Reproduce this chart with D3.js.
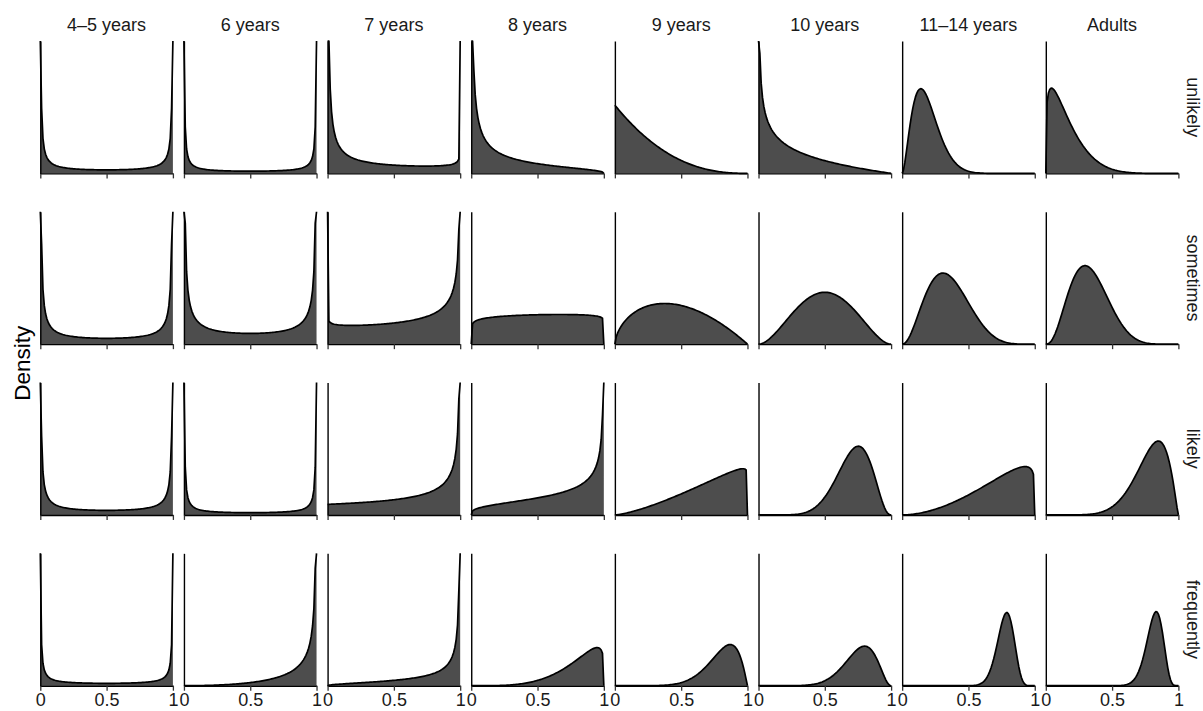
<!DOCTYPE html>
<html>
<head>
<meta charset="utf-8">
<script src="https://cdn.jsdelivr.net/npm/d3@7"></script>
<style>
  body { margin: 0; background: #ffffff; }
  text { font-family: "Liberation Sans", Arial, Helvetica, sans-serif; }
</style>
</head>
<body>
<svg id="chart" width="1203" height="711"></svg>
<script>
// Facet columns (age groups) and facet rows (response category)
const ageGroups = ["4–5 years", "6 years", "7 years", "8 years", "9 years", "10 years", "11–14 years", "Adults"];
const responses = ["unlikely", "sometimes", "likely", "frequently"];

// Beta shape parameters per age group, one pair of arrays per response row
const alphaUnlikely   = [0.10, 0.06, 0.22, 0.35, 1.00, 0.60, 2.80, 1.25];
const betaUnlikely    = [0.10, 0.06, 0.72, 1.40, 3.40, 2.00, 12.0, 6.60];
const alphaSometimes  = [0.12, 0.25, 0.90, 1.10, 1.60, 2.90, 3.20, 3.60];
const betaSometimes   = [0.12, 0.25, 0.55, 1.05, 2.00, 2.90, 5.95, 7.20];
const alphaLikely     = [0.12, 0.055, 1.00, 1.30, 2.40, 8.60, 2.90, 8.00];
const betaLikely      = [0.12, 0.055, 0.48, 0.60, 1.05, 3.50, 1.15, 2.25];
const alphaFrequently = [0.12, 3.00, 1.50, 4.80, 8.36, 9.64, 33.5, 30.4];
const betaFrequently  = [0.12, 0.42, 0.35, 1.20, 2.10, 3.16, 9.70, 6.90];

// Upper limit of the density axis in each row
const rowDensityMax = [6.6, 4.7, 6.0, 11.5];

const xTicks = [0, 0.5, 1];
const xTickLabels = ["0", "0.5", "1"];

const alphas = [alphaUnlikely, alphaSometimes, alphaLikely, alphaFrequently];
const betas  = [betaUnlikely, betaSometimes, betaLikely, betaFrequently];

// log-gamma (Lanczos approximation)
function lnGamma(z) {
  if (z < 0.5) return Math.log(Math.PI / Math.sin(Math.PI * z)) - lnGamma(1 - z);
  z -= 1;
  const c = [0.99999999999980993, 676.5203681218851, -1259.1392167224028,
    771.32342877765313, -176.61502916214059, 12.507343278686905,
    -0.13857109526572012, 9.9843695780195716e-6, 1.5056327351493116e-7];
  let s = c[0];
  for (let i = 1; i < 9; i++) s += c[i] / (z + i);
  const t = z + 7.5;
  return 0.5 * Math.log(2 * Math.PI) + (z + 0.5) * Math.log(t) - t + Math.log(s);
}

function betaDensity(x, a, b) {
  const lnB = lnGamma(a) + lnGamma(b) - lnGamma(a + b);
  if (x <= 0) return a < 1 ? Infinity : (a === 1 ? Math.exp(-lnB) : 0);
  if (x >= 1) return b < 1 ? Infinity : (b === 1 ? Math.exp(-lnB) : 0);
  return Math.exp((a - 1) * Math.log(x) + (b - 1) * Math.log(1 - x) - lnB);
}

// evaluation grid, 101 points over [0, 1]
const grid = d3.range(101).map(i => i / 100);

const svg = d3.select("#chart");

const col = d3.scaleBand().domain(ageGroups).range([40.3, 1178.4]).paddingInner(0.0769).paddingOuter(0);
const row = d3.scaleBand().domain(responses).range([41, 685.7]).paddingInner(0.2248).paddingOuter(0);
const bw = col.bandwidth(), bh = row.bandwidth();

const x = d3.scaleLinear().domain([0, 1]).range([0, bw]);

responses.forEach((resp, j) => {
  const ymax = rowDensityMax[j];
  const y = d3.scaleLinear().domain([0, ymax]).range([bh, 0]);
  const yc = v => y(Math.min(v, ymax));

  ageGroups.forEach((grp, i) => {
    const g = svg.append("g")
      .attr("transform", `translate(${col(grp)},${row(resp)})`);

    const pts = grid.map(t => ({ x: t, y: betaDensity(t, alphas[j][i], betas[j][i]) }));

    g.append("path")
      .datum(pts)
      .attr("fill", "#4d4d4d")
      .attr("stroke", "none")
      .attr("d", d3.area().x(d => x(d.x)).y0(bh).y1(d => yc(d.y)));

    g.append("path")
      .datum(pts)
      .attr("fill", "none")
      .attr("stroke", "#000")
      .attr("stroke-width", 1.7)
      .attr("stroke-linejoin", "round")
      .attr("d", d3.line().x(d => x(d.x)).y(d => yc(d.y)));

    // x axis
    const xa = g.append("g")
      .attr("transform", `translate(0,${bh})`)
      .call(d3.axisBottom(x)
        .tickValues(xTicks)
        .tickSize(5)
        .tickSizeOuter(0)
        .tickPadding(3)
        .tickFormat((d, k) => j === responses.length - 1 ? xTickLabels[k] : ""));
    xa.select(".domain").attr("stroke", "#000").attr("stroke-width", 1.4);
    xa.selectAll(".tick line").attr("stroke", "#333").attr("stroke-width", 1.3);
    xa.selectAll(".tick text")
      .attr("fill", "#1a1a1a")
      .attr("font-size", 18)
      .attr("font-family", "'Liberation Sans', Arial, sans-serif");

    // y axis (line only)
    const ya = g.append("g")
      .call(d3.axisLeft(y).tickValues([]).tickSizeOuter(0));
    ya.select(".domain").attr("stroke", "#000").attr("stroke-width", 1.4);

    // column strip labels
    if (j === 0) {
      svg.append("text")
        .attr("x", col(grp) + bw / 2)
        .attr("y", 30.7)
        .attr("text-anchor", "middle")
        .attr("font-size", 18)
        .attr("fill", "#1a1a1a")
        .text(grp);
    }
  });

  // row strip labels
  svg.append("text")
    .attr("transform", `translate(1187,${row(resp) + bh / 2}) rotate(90)`)
    .attr("text-anchor", "middle")
    .attr("font-size", 18)
    .attr("fill", "#1a1a1a")
    .text(resp);
});

// y axis title
svg.append("text")
  .attr("transform", `translate(30,${(41 + 685.7) / 2}) rotate(-90)`)
  .attr("text-anchor", "middle")
  .attr("font-size", 22.5)
  .attr("fill", "#000")
  .text("Density");
</script>
</body>
</html>
